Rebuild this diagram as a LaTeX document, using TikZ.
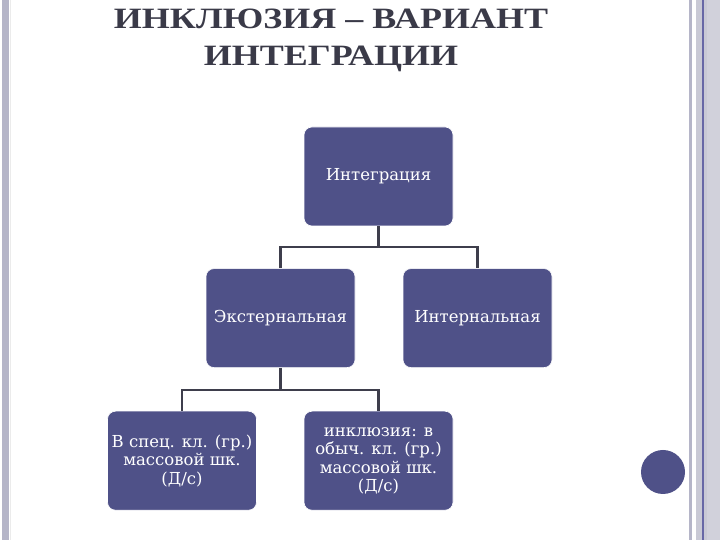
\documentclass[tikz,border=0pt]{standalone}
\usepackage{fontspec}
\setmainfont{DejaVu Serif}
\newfontfamily\titlefont[FakeStretch=1.22]{Liberation Serif}
\usetikzlibrary{positioning}
\definecolor{boxblue}{RGB}{79,81,136}
\definecolor{titlegray}{RGB}{58,58,72}
\definecolor{linkgray}{RGB}{62,62,76}
\definecolor{stripegray}{RGB}{181,181,200}
\definecolor{bandgray}{RGB}{201,201,213}
\definecolor{bandline}{RGB}{104,104,166}

\begin{document}
\begin{tikzpicture}[
  x=1pt, y=1pt,
  levelbox/.style={draw=white, line width=0.6pt, fill=boxblue, rounded corners=8pt, minimum width=149pt, minimum height=99pt, inner sep=0pt, align=center, text=white, font=\fontsize{16.5}{18.5}\selectfont},
  link/.style={draw=linkgray, line width=2.2pt}
]
\useasboundingbox (0,0) rectangle (720,540);
\fill[white] (0,0) rectangle (720,540);
% page frame
\fill[stripegray] (2,0) rectangle (9,540);
\fill[black!8] (10,0) rectangle (11,540);
\fill[stripegray] (689,0) rectangle (692,540);
\fill[bandgray] (696,0) rectangle (720,540);
\fill[bandline] (702,0) rectangle (703.5,540);
\fill[bandgray!85!white] (707,0) rectangle (720,540);

\node[align=center, text=titlegray, font=\titlefont\bfseries\fontsize{29.5}{37}\selectfont] (title) at (331,500) {ИНКЛЮЗИЯ – ВАРИАНТ\\ИНТЕГРАЦИИ};

\node[levelbox] (integ) at (378.5,363.5) {Интеграция};
\node[levelbox, below=42pt of integ, xshift=-98pt] (ext) {Экстернальная};
\node[levelbox, below=42pt of integ, xshift=99pt] (int) {Интернальная};
\node[levelbox, below=43pt of ext, xshift=-98.5pt] (spec) {В спец. кл. (гр.)\\массовой шк.\\(Д/с)};
\node[levelbox, below=43pt of ext, xshift=98pt] (incl) {инклюзия: в\\обыч. кл. (гр.)\\массовой шк.\\(Д/с)};

\draw[link] (integ.south) -- ++(0,-21) coordinate (fork1);
\draw[link] (fork1) -| (ext.north);
\draw[link] (fork1) -| (int.north);
\draw[link] (ext.south) -- ++(0,-22) coordinate (fork2);
\draw[link] (fork2) -| (spec.north);
\draw[link] (fork2) -| (incl.north);

\node[circle, fill=boxblue, minimum size=44pt, inner sep=0pt] (dot) at (663,68) {};
\end{tikzpicture}
\end{document}
